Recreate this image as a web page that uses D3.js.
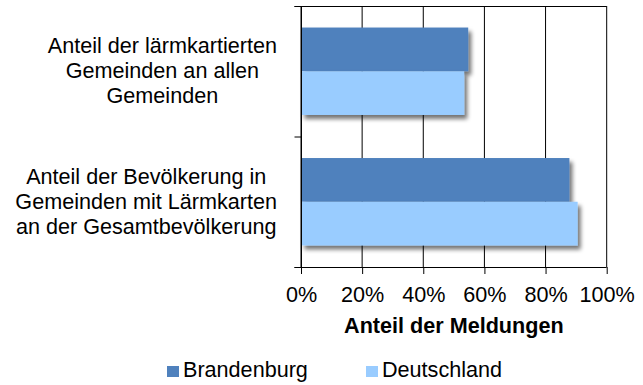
<!DOCTYPE html>
<html>
<head>
<meta charset="utf-8">
<script src="https://cdn.jsdelivr.net/npm/d3@7"></script>
<style>
  html, body { margin: 0; padding: 0; background: #fff; }
  svg { display: block; font-family: "Liberation Sans", Arial, sans-serif; }
</style>
</head>
<body>
<div id="chart"></div>
<script>
// Anteil der Meldungen: Brandenburg vs. Deutschland
const categories = [
  ["Anteil der lärmkartierten", "Gemeinden an allen", "Gemeinden"],
  ["Anteil der Bevölkerung in", "Gemeinden mit Lärmkarten", "an der Gesamtbevölkerung"]
];
const categoryKeys = ["gemeinden", "bevoelkerung"];
const seriesNames = ["Brandenburg", "Deutschland"];
const brandenburgValues = [54.7, 87.8];
const deutschlandValues = [53.4, 90.5];
const xTicks = [0, 20, 40, 60, 80, 100];
const xTitle = "Anteil der Meldungen";

const seriesValues = [brandenburgValues, deutschlandValues];
const colors = ["#4F81BD", "#99CCFF"];

const W = 643, H = 385;
const plot = { left: 301, right: 606.7, top: 6, bottom: 267 };
const fs = 21.6;

const svg = d3.select("#chart").append("svg")
  .attr("width", W).attr("height", H);

const defs = svg.append("defs");
const shadow = defs.append("filter").attr("id", "barShadow")
  .attr("x", "-10%").attr("y", "-10%").attr("width", "130%").attr("height", "140%");
shadow.append("feGaussianBlur").attr("in", "SourceAlpha").attr("stdDeviation", 2.2).attr("result", "blur");
shadow.append("feOffset").attr("in", "blur").attr("dx", 3).attr("dy", 3.5).attr("result", "off");
shadow.append("feComponentTransfer").attr("in", "off").attr("result", "soft")
  .append("feFuncA").attr("type", "linear").attr("slope", 0.55);
const merge = shadow.append("feMerge");
merge.append("feMergeNode").attr("in", "soft");
merge.append("feMergeNode").attr("in", "SourceGraphic");

const x = d3.scaleLinear().domain([0, 100]).range([plot.left, plot.right]);
const y = d3.scaleBand().domain(categoryKeys).range([plot.top, plot.bottom])
  .paddingInner(0.33).paddingOuter(0.165);
const ySub = d3.scaleBand().domain(seriesNames).range([0, y.bandwidth()]);

// vertical gridlines
svg.append("g").selectAll("line").data(xTicks).join("line")
  .attr("x1", d => x(d)).attr("x2", d => x(d))
  .attr("y1", plot.top).attr("y2", plot.bottom)
  .attr("stroke", "#000").attr("stroke-width", 1);

// top border of the plot area
svg.append("line")
  .attr("x1", plot.left - 6.5).attr("x2", plot.right)
  .attr("y1", plot.top + 0.5).attr("y2", plot.top + 0.5)
  .attr("stroke", "#000");

// bars
const groups = svg.append("g").selectAll("g").data(categoryKeys).join("g")
  .attr("transform", k => `translate(0,${y(k)})`);
groups.selectAll("rect")
  .data((k, i) => seriesNames.map((s, j) => ({ s, j, v: seriesValues[j][i] })))
  .join("rect")
  .attr("x", x(0) + 0.5)
  .attr("y", d => ySub(d.s))
  .attr("width", d => x(d.v) - x(0) - 0.5)
  .attr("height", ySub.bandwidth())
  .attr("fill", d => colors[d.j])
  .attr("filter", "url(#barShadow)");

// x axis
const xAxis = d3.axisBottom(x).tickValues(xTicks).tickFormat(d => d + "%")
  .tickSize(7).tickSizeOuter(0).tickPadding(13);
const gx = svg.append("g").attr("transform", `translate(0,${plot.bottom})`).call(xAxis);
gx.select(".domain").attr("stroke", "#000").attr("d", `M${plot.left - 6.5},0.5H${plot.right}`);
gx.selectAll(".tick line").attr("stroke", "#000");
gx.selectAll(".tick text").attr("font-size", fs).attr("fill", "#000")
  .attr("font-family", "Liberation Sans, Arial, sans-serif");

// y axis line with category boundary ticks
svg.append("line").attr("x1", plot.left + 0.5).attr("x2", plot.left + 0.5)
  .attr("y1", plot.top).attr("y2", plot.bottom + 7).attr("stroke", "#000");
const bounds = [plot.top, (plot.top + plot.bottom) / 2, plot.bottom];
svg.append("g").selectAll("line").data(bounds).join("line")
  .attr("x1", plot.left - 6.5).attr("x2", plot.left)
  .attr("y1", d => d + 0.5).attr("y2", d => d + 0.5)
  .attr("stroke", "#000");

// category labels, wrapped lines centred within a right-aligned block
const lineH = 25;
categoryKeys.forEach((k, i) => {
  const lines = categories[i];
  const cy = y(k) + y.bandwidth() / 2;
  const t = svg.append("text").attr("font-size", fs).attr("fill", "#000")
    .attr("text-anchor", "middle");
  const spans = lines.map((ln, li) => t.append("tspan").text(ln)
    .attr("y", cy + (li - (lines.length - 1) / 2) * lineH + 6.8));
  const maxW = d3.max(spans, s => s.node().getComputedTextLength());
  const cx = 277 - maxW / 2;
  spans.forEach(s => s.attr("x", cx));
});

// axis title
svg.append("text").attr("x", (plot.left + plot.right) / 2).attr("y", 333)
  .attr("text-anchor", "middle").attr("font-size", fs).attr("font-weight", "bold")
  .text(xTitle);

// legend
const legendX = [167, 366];
const lg = svg.append("g").selectAll("g").data(seriesNames).join("g")
  .attr("transform", (d, i) => `translate(${legendX[i]},366)`);
lg.append("rect").attr("width", 12).attr("height", 11).attr("fill", (d, i) => colors[i]);
lg.append("text").attr("x", 16).attr("y", 11).attr("font-size", fs).text(d => d);
</script>
</body>
</html>
